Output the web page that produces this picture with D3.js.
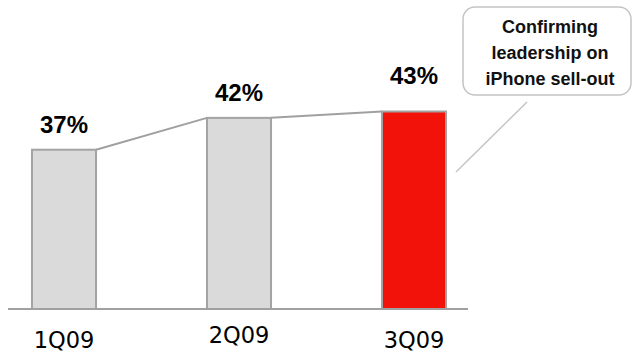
<!DOCTYPE html>
<html><head><meta charset="utf-8">
<script src="https://cdn.jsdelivr.net/npm/d3@7"></script>
<style>html,body{margin:0;padding:0;background:#fff;}svg{display:block;}</style>
</head><body>
<script>
const categories = ["1Q09", "2Q09", "3Q09"];
const values = [37, 42, 43];
const valueLabels = ["37%", "42%", "43%"];
const highlight = [false, false, true];
const calloutLines = ["Confirming", "leadership on", "iPhone sell-out"];

const W = 633, H = 355;
const svg = d3.select("body").append("svg").attr("width", W).attr("height", H);

const x = d3.scaleBand().domain(categories).range([-23.5, 501.5]).paddingInner(0.634).paddingOuter(0.317);
const y = d3.scaleLinear().domain([12, 43]).range([309, 111.5]);

const data = categories.map((c, i) => ({c, v: values[i], label: valueLabels[i], hi: highlight[i]}));

// connectors
for (let i = 0; i < data.length - 1; i++) {
  svg.append("line")
    .attr("x1", x(data[i].c) + x.bandwidth()).attr("y1", y(data[i].v))
    .attr("x2", x(data[i+1].c)).attr("y2", y(data[i+1].v))
    .attr("stroke", "#a0a0a0").attr("stroke-width", 2);
}

// bars
svg.selectAll("rect.bar").data(data).enter().append("rect")
  .attr("class", "bar")
  .attr("x", d => x(d.c)).attr("width", x.bandwidth())
  .attr("y", d => y(d.v)).attr("height", d => y.range()[0] - y(d.v))
  .attr("fill", d => d.hi ? "#f2120a" : "#dadada")
  .attr("stroke", "#a3a3a3").attr("stroke-width", 2);

// axis baseline
svg.append("line").attr("x1", 8).attr("x2", 468).attr("y1", 309).attr("y2", 309)
  .attr("stroke", "#a0a0a0").attr("stroke-width", 2);

// value labels
svg.selectAll("text.val").data(data).enter().append("text")
  .attr("class", "val")
  .attr("x", d => x(d.c) + x.bandwidth() / 2)
  .attr("y", d => y(d.v) - (d.hi ? 28 : 17))
  .attr("text-anchor", "middle")
  .attr("font-family", "Liberation Sans, Arial, sans-serif")
  .attr("font-weight", "bold").attr("font-size", 24)
  .attr("fill", "#000")
  .text(d => d.label);

// category labels
const catDy = [0, -5, 0];
svg.selectAll("text.cat").data(data).enter().append("text")
  .attr("class", "cat")
  .attr("x", d => x(d.c) + x.bandwidth() / 2)
  .attr("y", (d, i) => 348 + catDy[i])
  .attr("text-anchor", "middle")
  .attr("font-family", "DejaVu Sans, sans-serif")
  .attr("font-size", 22.5)
  .attr("fill", "#000")
  .text(d => d.c);

// callout
svg.append("line").attr("x1", 527).attr("y1", 102).attr("x2", 456).attr("y2", 172)
  .attr("stroke", "#c4c4c4").attr("stroke-width", 1.5);
svg.append("rect").attr("x", 463).attr("y", 7).attr("width", 168).attr("height", 88)
  .attr("rx", 12).attr("ry", 12)
  .attr("fill", "#fff").attr("stroke", "#c4c4c4").attr("stroke-width", 1.5);
svg.append("text")
  .attr("text-anchor", "middle")
  .attr("font-family", "Liberation Sans, Arial, sans-serif")
  .attr("font-weight", "bold").attr("font-size", 18)
  .attr("fill", "#111")
  .selectAll("tspan").data(calloutLines).enter().append("tspan")
  .attr("x", 550).attr("y", (d, i) => 33 + i * 26)
  .text(d => d);
</script>
</body></html>
